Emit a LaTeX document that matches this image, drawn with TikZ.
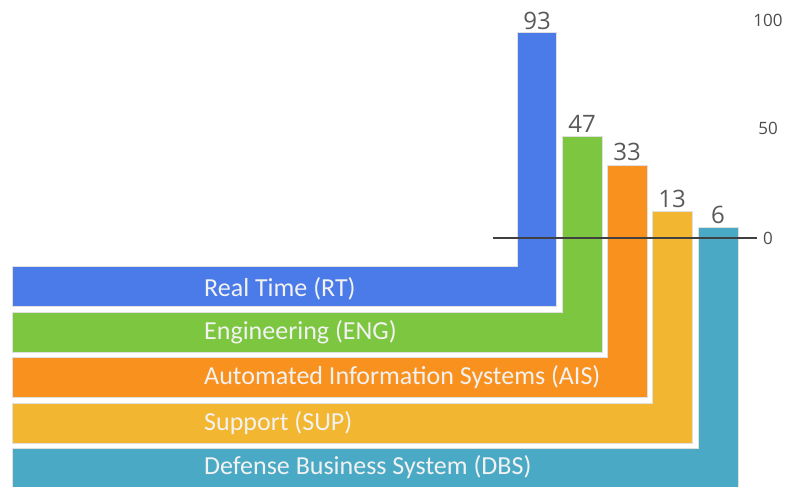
\documentclass[tikz,border=0pt]{standalone}
\usepackage{fontspec}
\setmainfont{Carlito}
\newfontfamily\numfont{Open Sans}
\usepackage{tikz}

\definecolor{rtblue}{HTML}{4A7BE8}
\definecolor{enggreen}{HTML}{7CC640}
\definecolor{aisorange}{HTML}{F9911F}
\definecolor{supyellow}{HTML}{F3B631}
\definecolor{dbsteal}{HTML}{4AA9C4}

\begin{document}
\begin{tikzpicture}[x=1pt, y=-1pt,
  band/.style={draw=black!12, line width=1pt},
  lbl/.style={anchor=base west, inner sep=0pt, text=white!95!black, font=\fontsize{26}{26}\selectfont},
  val/.style={anchor=base, inner sep=0pt, text=black!65, font=\numfont\fontsize{24}{24}\selectfont},
  tick/.style={anchor=base, inner sep=0pt, text=black!70, font=\numfont\fontsize{17}{17}\selectfont}]
\useasboundingbox (0,0) rectangle (785,487);

% L-shaped bands: horizontal label bar joined to its column
\fill[rtblue, band] (12,266) -- (517,266) -- (517,33) -- (556,33) -- (556,306) -- (12,306) -- cycle;
\fill[enggreen, band] (12,312) -- (562,312) -- (562,136) -- (602,136) -- (602,352) -- (12,352) -- cycle;
\fill[aisorange, band] (12,357) -- (607,357) -- (607,165) -- (647,165) -- (647,397) -- (12,397) -- cycle;
\fill[supyellow, band] (12,403) -- (652,403) -- (652,211) -- (692,211) -- (692,443) -- (12,443) -- cycle;
\fill[dbsteal, band] (12,448) -- (698,448) -- (698,227) -- (738,227) -- (738,487) -- (12,487) -- cycle;

% Zero line
\draw[black!75, line width=2pt] (493,238) -- (757,238);

% Scale
\node[tick] (t100) at (768,27) {100};
\node[tick] (t50) at (768,135) {50};
\node[tick] (t0) at (768,244) {0};

% Values on top of the columns
\node[val] (vrt) at (537,30) {93};
\node[val] (veng) at (582,132) {47};
\node[val] (vais) at (627,160) {33};
\node[val] (vsup) at (672,207) {13};
\node[val] (vdbs) at (718,223) {6};

% Labels
\node[lbl] (rt) at (204,296) {Real Time (RT)};
\node[lbl] (eng) at (204,339) {Engineering (ENG)};
\node[lbl] (ais) at (204,384) {Automated Information Systems (AIS)};
\node[lbl] (sup) at (204,430) {Support (SUP)};
\node[lbl] (dbs) at (204,474) {Defense Business System (DBS)};
\end{tikzpicture}
\end{document}
